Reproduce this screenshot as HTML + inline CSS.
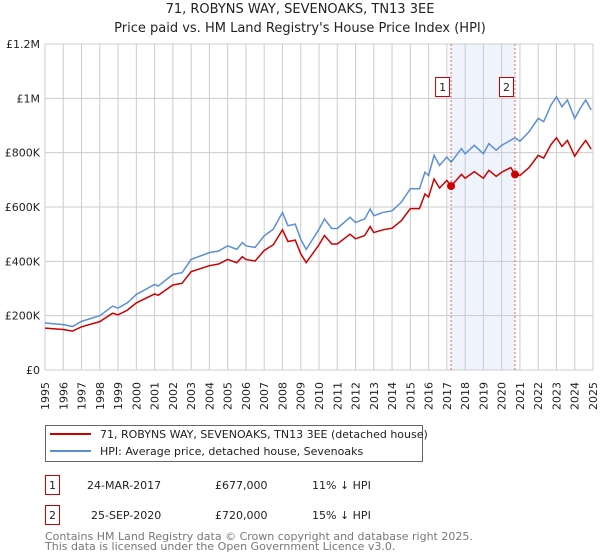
<!DOCTYPE html>
<html><head><meta charset="utf-8"><style>
body{margin:0;background:#fff;font-family:"Liberation Sans","DejaVu Sans",sans-serif;}
#wrap{position:relative;width:600px;height:560px;overflow:hidden;}
</style></head><body>
<div id="wrap">
<svg id="chart" width="600" height="560" xmlns="http://www.w3.org/2000/svg" style="position:absolute;left:0;top:0">
<text x="300" y="13" text-anchor="middle" font-size="13" fill="#222" font-family="DejaVu Sans, sans-serif">71, ROBYNS WAY, SEVENOAKS, TN13 3EE</text>
<text x="300" y="32" text-anchor="middle" font-size="13" fill="#222" font-family="DejaVu Sans, sans-serif">Price paid vs. HM Land Registry's House Price Index (HPI)</text>
<g id="grid"></g><g id="series"></g><g id="axes"></g>
<rect x="45.5" y="425.5" width="377" height="36" fill="#fff" stroke="#666"/>
<line x1="50" y1="434" x2="91" y2="434" stroke="#cc0000" stroke-width="2"/>
<text x="100" y="438" font-size="11" fill="#222" font-family="DejaVu Sans, sans-serif">71, ROBYNS WAY, SEVENOAKS, TN13 3EE (detached house)</text>
<line x1="50" y1="451" x2="91" y2="451" stroke="#5b8fd4" stroke-width="2"/>
<text x="100" y="455" font-size="11" fill="#222" font-family="DejaVu Sans, sans-serif">HPI: Average price, detached house, Sevenoaks</text>
<g font-size="11" fill="#222" font-family="DejaVu Sans, sans-serif">
<rect x="45.5" y="475.5" width="14" height="19" fill="#fff" stroke="#cc0000"/>
<text x="52.5" y="489" text-anchor="middle">1</text>
<text x="87" y="489">24-MAR-2017</text>
<text x="215" y="489">£677,000</text>
<text x="312" y="489">11% ↓ HPI</text>
<rect x="45.5" y="505.5" width="14" height="19" fill="#fff" stroke="#cc0000"/>
<text x="52.5" y="519" text-anchor="middle">2</text>
<text x="91" y="519">25-SEP-2020</text>
<text x="215" y="519">£720,000</text>
<text x="312" y="519">15% ↓ HPI</text>
</g>
<text x="45" y="540" font-size="11" fill="#777" font-family="DejaVu Sans, sans-serif">Contains HM Land Registry data © Crown copyright and database right 2025.</text>
<text x="45" y="550" font-size="11" fill="#777" font-family="DejaVu Sans, sans-serif">This data is licensed under the Open Government Licence v3.0.</text>
</svg>
</div>
<script>
const hpiYears=[1995,1996,1996.5,1997,1998,1998.7,1999,1999.5,2000,2001,2001.2,2002,2002.5,2003,2004,2004.5,2005,2005.5,2005.8,2006,2006.5,2007,2007.5,2008,2008.3,2008.7,2009,2009.3,2010,2010.3,2010.7,2011,2011.7,2012,2012.5,2012.8,2013,2013.5,2014,2014.5,2015,2015.5,2015.8,2016,2016.3,2016.6,2017,2017.23,2017.8,2018,2018.5,2019,2019.3,2019.7,2020,2020.5,2020.73,2021,2021.5,2022,2022.3,2022.7,2023,2023.3,2023.6,2024,2024.3,2024.6,2024.9];
const hpiValues=[173,167,160,179,200,235,228,247,278,315,309,352,358,407,432,438,457,444,469,457,451,494,518,580,531,537,481,444,518,556,521,521,562,543,556,593,568,580,586,617,667,667,728,716,790,753,784,765,815,796,827,796,833,809,827,846,855,842,877,926,914,975,1006,969,994,926,963,994,957];
const propValues=[154,149,143,159,178,209,203,220,247,280,275,313,319,362,384,390,407,395,417,407,401,440,461,516,473,478,428,395,461,495,464,464,500,483,495,528,506,516,522,549,594,594,648,637,703,670,698,677,720,706,730,706,735,713,728,745,720,716,745,790,780,830,855,823,845,787,818,845,813];
const saleYears=[2017.23,2020.73];
const saleValues=[677,720];
const saleLabels=["1","2"];
const yTicks=[0,200,400,600,800,1000,1200];
const yTickLabels=["£0","£200K","£400K","£600K","£800K","£1M","£1.2M"];
const xTicks=[1995,1996,1997,1998,1999,2000,2001,2002,2003,2004,2005,2006,2007,2008,2009,2010,2011,2012,2013,2014,2015,2016,2017,2018,2019,2020,2021,2022,2023,2024,2025];

const NS="http://www.w3.org/2000/svg";
const X0=45,X1=593,Y0=370,Y1=44;
const xs=v=>X0+(v-1995)/30*(X1-X0);
const ys=v=>Y0-v/1200*(Y0-Y1);
function mk(tag,attrs,parent){const e=document.createElementNS(NS,tag);for(const k in attrs)e.setAttribute(k,attrs[k]);parent.appendChild(e);return e;}
const grid=document.getElementById('grid'),series=document.getElementById('series'),axes=document.getElementById('axes');

const band=mk('rect',{x:xs(saleYears[0]),y:Y1,width:xs(saleYears[1])-xs(saleYears[0]),height:Y0-Y1,fill:'#eef3fc'},grid);


xTicks.forEach((t,i)=>{
  const l=mk('line',{x1:xs(t),x2:xs(t),y1:Y1,y2:Y0,stroke:'#cccccc','stroke-width':1},grid);
  
  
  const tx=mk('text',{transform:`translate(${xs(t)+4},382) rotate(-90)`,'text-anchor':'end','font-size':11,fill:'#222','font-family':'DejaVu Sans, sans-serif'},axes);
  tx.textContent=t;
  
  
});
yTicks.forEach((t,i)=>{
  const l=mk('line',{x1:X0,x2:X1,y1:ys(t),y2:ys(t),stroke:'#cccccc','stroke-width':1},grid);
  
  
  const tx=mk('text',{x:40,y:ys(t)+4,'text-anchor':'end','font-size':11,fill:'#222','font-family':'DejaVu Sans, sans-serif'},axes);
  tx.textContent=yTickLabels[i];
  
  
});
saleYears.forEach((y,i)=>{
  const l=mk('line',{x1:xs(y),x2:xs(y),y1:Y1,y2:Y0,stroke:'#e06666','stroke-width':1,'stroke-dasharray':'2,2'},grid);
  
  
});
const blue=mk('polyline',{points:hpiYears.map((y,i)=>xs(y)+','+ys(hpiValues[i])).join(' '),fill:'none',stroke:'#5b8fd4','stroke-width':1.5},series);


const red=mk('polyline',{points:hpiYears.map((y,i)=>xs(y)+','+ys(propValues[i])).join(' '),fill:'none',stroke:'#cc0000','stroke-width':1.5},series);


saleYears.forEach((y,i)=>{
  const c=mk('circle',{cx:xs(y),cy:ys(saleValues[i]),r:4,fill:'#cc0000'},series);
  
  
  const r=mk('rect',{x:xs(y)-15.5,y:77.5,width:14,height:19,fill:'#fff',stroke:'#cc0000'},series);
  
  
  const t=mk('text',{x:xs(y)-8.5,y:91,'text-anchor':'middle','font-size':11,fill:'#222','font-family':'DejaVu Sans, sans-serif'},series);
  t.textContent=saleLabels[i];
  
  
});
</script>
</body></html>
